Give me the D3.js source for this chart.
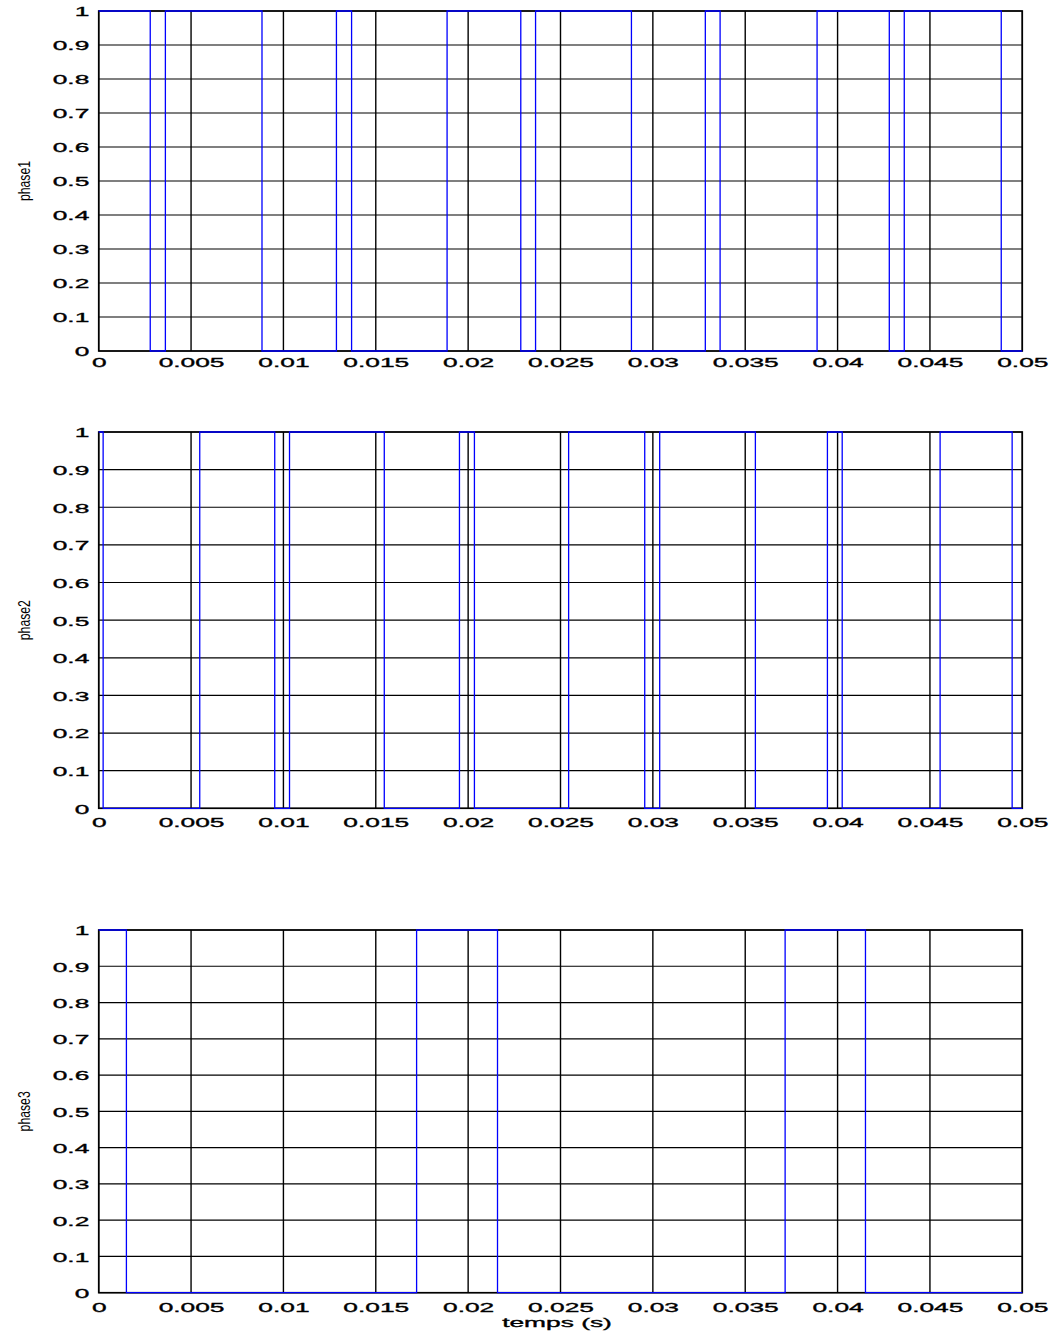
<!DOCTYPE html>
<html>
<head>
<meta charset="utf-8">
<script src="https://cdn.jsdelivr.net/npm/d3@7"></script>
<style>
  body { margin: 0; background: #fff; }
  text { font-family: "Liberation Sans", Arial, sans-serif; fill: #000; }
</style>
</head>
<body>
<svg id="chart"></svg>
<script>
// Tick values and their labels (shared by the three panels)
const xTicks = [0, 0.005, 0.01, 0.015, 0.02, 0.025, 0.03, 0.035, 0.04, 0.045, 0.05];
const xTickLabels = ["0", "0.005", "0.01", "0.015", "0.02", "0.025", "0.03", "0.035", "0.04", "0.045", "0.05"];
const yTicks = [0, 0.1, 0.2, 0.3, 0.4, 0.5, 0.6, 0.7, 0.8, 0.9, 1];
const yTickLabels = ["0", "0.1", "0.2", "0.3", "0.4", "0.5", "0.6", "0.7", "0.8", "0.9", "1"];

// Switching instants (s) and the level held after each instant
const phase1Times = [0, 0.00279, 0.00361, 0.00884, 0.01287, 0.01369, 0.01886, 0.02285, 0.02365,
  0.02884, 0.03284, 0.03364, 0.03889, 0.0428, 0.04361, 0.04886, 0.05];
const phase1Levels = [1, 0, 1, 0, 1, 0, 1, 0, 1, 0, 1, 0, 1, 0, 1, 0];

const phase2Times = [0, 0.00024, 0.00547, 0.00953, 0.01033, 0.01546, 0.01953, 0.02034, 0.02544,
  0.02956, 0.03037, 0.03555, 0.03945, 0.04025, 0.04555, 0.04945, 0.05];
const phase2Levels = [1, 0, 1, 0, 1, 0, 1, 0, 1, 0, 1, 0, 1, 0, 1, 0];

const phase3Times = [0, 0.0015, 0.01721, 0.02159, 0.03716, 0.04151, 0.05];
const phase3Levels = [1, 0, 1, 0, 1, 0];

const seriesNames = ["phase1", "phase2", "phase3"];

// Layout of the figure
const W = 1055, H = 1333;
const left = 98.7, right = 1022.3;
const panels = [
  { name: seriesNames[0], times: phase1Times, levels: phase1Levels, top: 11, bottom: 351, labelOff: 16 },
  { name: seriesNames[1], times: phase2Times, levels: phase2Levels, top: 432, bottom: 808.3, labelOff: 18.4 },
  { name: seriesNames[2], times: phase3Times, levels: phase3Levels, top: 930, bottom: 1292.7, labelOff: 19 }
];
const stretch = 1.95; // tick labels are drawn horizontally stretched
const tickFont = 13.5;

const svg = d3.select("#chart")
  .attr("width", W)
  .attr("height", H);

svg.append("rect").attr("width", W).attr("height", H).attr("fill", "#fff");

const x = d3.scaleLinear().domain([0, 0.05]).range([left, right]);

panels.forEach(function(p) {
  const y = d3.scaleLinear().domain([0, 1]).range([p.bottom, p.top]);
  const g = svg.append("g");

  // grid
  g.append("g").selectAll("line")
    .data(xTicks)
    .enter().append("line")
    .attr("x1", d => x(d)).attr("x2", d => x(d))
    .attr("y1", p.top).attr("y2", p.bottom)
    .attr("stroke", "#000").attr("stroke-width", 1.4);

  g.append("g").selectAll("line")
    .data(yTicks)
    .enter().append("line")
    .attr("x1", left).attr("x2", right)
    .attr("y1", d => y(d)).attr("y2", d => y(d))
    .attr("stroke", "#000").attr("stroke-width", 1.2);

  // box
  g.append("rect")
    .attr("x", left).attr("y", p.top)
    .attr("width", right - left).attr("height", p.bottom - p.top)
    .attr("fill", "none").attr("stroke", "#000").attr("stroke-width", 1.6);

  // x axis labels
  const xAxis = g.append("g")
    .attr("transform", "translate(0," + p.bottom + ")")
    .call(d3.axisBottom(x).tickValues(xTicks).tickSize(0)
      .tickFormat((d, i) => xTickLabels[i]));
  xAxis.select(".domain").remove();
  xAxis.selectAll("text")
    .attr("y", null).attr("dy", null)
    .attr("font-size", tickFont)
    .attr("font-family", "Liberation Sans, Arial, sans-serif")
    .attr("stroke", "#000").attr("stroke-width", 0.35)
    .attr("transform", "translate(0," + p.labelOff + ") scale(" + stretch + ",1)");

  // y axis labels
  const yAxis = g.append("g")
    .attr("transform", "translate(" + left + ",0)")
    .call(d3.axisLeft(y).tickValues(yTicks).tickSize(0)
      .tickFormat((d, i) => yTickLabels[i]));
  yAxis.select(".domain").remove();
  yAxis.selectAll("text")
    .attr("x", null).attr("dy", "0.36em")
    .attr("font-size", tickFont)
    .attr("font-family", "Liberation Sans, Arial, sans-serif")
    .attr("stroke", "#000").attr("stroke-width", 0.35)
    .attr("transform", "translate(-9.4,0) scale(" + stretch + ",1)");

  // switching signal as a step line
  const points = p.times.map((t, i) => [t, p.levels[Math.min(i, p.levels.length - 1)]]);
  const line = d3.line()
    .x(d => x(d[0]))
    .y(d => y(d[1]))
    .curve(d3.curveStepAfter);

  g.append("path")
    .datum(points)
    .attr("d", line)
    .attr("fill", "none")
    .attr("stroke", "#0000ff")
    .attr("stroke-width", 1.3);

  // y label
  g.append("text")
    .attr("transform", "translate(30," + ((p.top + p.bottom) / 2) + ") rotate(-90) scale(0.72,1)")
    .attr("text-anchor", "middle")
    .attr("font-size", 17)
    .text(p.name);
});

// x label under the last panel
svg.append("text")
  .attr("transform", "translate(557,1327) scale(" + stretch + ",1)")
  .attr("text-anchor", "middle")
  .attr("font-size", tickFont)
  .attr("stroke", "#000").attr("stroke-width", 0.35)
  .text("temps (s)");
</script>
</body>
</html>
